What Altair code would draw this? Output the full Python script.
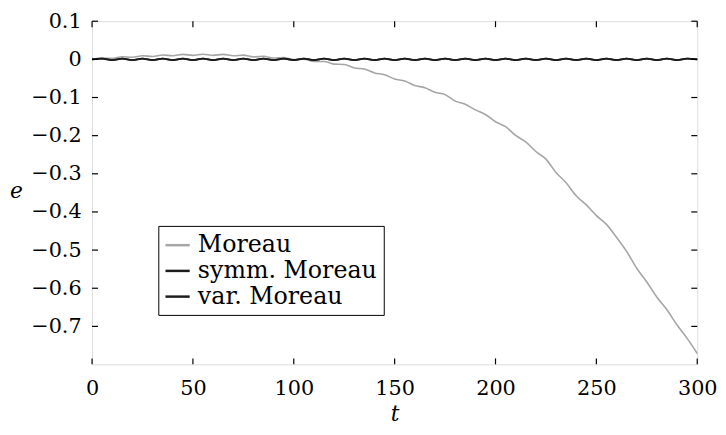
import altair as alt
import pandas as pd

t_vals = [0, 5, 10, 15, 20, 25, 30, 35, 40, 45, 50, 55, 60, 65, 70, 75, 80, 85, 90, 95,
          100, 105, 110, 115, 120, 125, 130, 135, 140, 145, 150, 155, 160, 165, 170, 175,
          180, 185, 190, 195, 200, 205, 210, 215, 220, 225, 230, 235, 240, 245, 250, 255,
          260, 265, 270, 275, 280, 285, 290, 295, 300]

moreau = [0.0, 0.0035, 0.0025, 0.007, 0.0055, 0.0095, 0.0075, 0.0115, 0.0095, 0.013,
          0.0105, 0.0135, 0.0105, 0.013, 0.0095, 0.011, 0.0065, 0.008, 0.0035, 0.0045,
          -0.0005, 0.0005, -0.0055, -0.0055, -0.0125, -0.0135, -0.0225, -0.0255, -0.0355, -0.0405,
          -0.0515, -0.0565, -0.0685, -0.0745, -0.0865, -0.0925, -0.1095, -0.1175, -0.1325, -0.1445,
          -0.1635, -0.1765, -0.1995, -0.2165, -0.2415, -0.2615, -0.2965, -0.3235, -0.3575, -0.3815,
          -0.4095, -0.4325, -0.4665, -0.5035, -0.5475, -0.5835, -0.6235, -0.6565, -0.6965, -0.7315,
          -0.771]

symm_moreau = [0.0, 0.002, -0.002, 0.002, -0.002, 0.002, -0.002, 0.002, -0.002, 0.002,
               -0.002, 0.002, -0.002, 0.002, -0.002, 0.002, -0.002, 0.002, -0.002, 0.002,
               -0.002, 0.002, -0.002, 0.002, -0.002, 0.002, -0.002, 0.002, -0.002, 0.002,
               -0.002, 0.002, -0.002, 0.002, -0.002, 0.002, -0.002, 0.002, -0.002, 0.002,
               -0.002, 0.002, -0.002, 0.002, -0.002, 0.002, -0.002, 0.002, -0.002, 0.002,
               -0.002, 0.002, -0.002, 0.002, -0.002, 0.002, -0.002, 0.002, -0.002, 0.002,
               0.0]

var_moreau = [0.0, 0.002, -0.002, 0.002, -0.002, 0.002, -0.002, 0.002, -0.002, 0.002,
              -0.002, 0.002, -0.002, 0.002, -0.002, 0.002, -0.002, 0.002, -0.002, 0.002,
              -0.002, 0.002, -0.002, 0.002, -0.002, 0.002, -0.002, 0.002, -0.002, 0.002,
              -0.002, 0.002, -0.002, 0.002, -0.002, 0.002, -0.002, 0.002, -0.002, 0.002,
              -0.002, 0.002, -0.002, 0.002, -0.002, 0.002, -0.002, 0.002, -0.002, 0.002,
              -0.002, 0.002, -0.002, 0.002, -0.002, 0.002, -0.002, 0.002, -0.002, 0.002,
              0.0]

series_names = ["Moreau", "symm. Moreau", "var. Moreau"]
series_colors = ["#a6a6a6", "#1c1c1c", "#1c1c1c"]

x_ticks = [0, 50, 100, 150, 200, 250, 300]
y_ticks = [0.1, 0.0, -0.1, -0.2, -0.3, -0.4, -0.5, -0.6, -0.7]

W, H = 612, 347
FONT = "DejaVu Serif, serif"

rows = []
for name, vals in zip(series_names, [moreau, symm_moreau, var_moreau]):
    for i, (t, e) in enumerate(zip(t_vals, vals)):
        rows.append({"t": t, "e": e, "series": name, "idx": i})
df = pd.DataFrame(rows)

xscale = alt.Scale(domain=[0, 300], nice=False, zero=False)
yscale = alt.Scale(domain=[-0.7995, 0.1], nice=False, zero=False)

lines = alt.Chart(df).mark_line(strokeWidth=1.6, interpolate="monotone").encode(
    x=alt.X("t:Q", scale=xscale,
            axis=alt.Axis(values=x_ticks, ticks=False, domain=False, grid=False,
                          labelFlush=False, labelOverlap=False,
                          labelFont=FONT, labelFontSize=21, labelColor="black",
                          labelPadding=14, title="t", titleFont=FONT,
                          titleFontStyle="italic", titleFontWeight="normal",
                          titleFontSize=22, titleColor="black",
                          titleX=306, titleY=50, titleBaseline="middle")),
    y=alt.Y("e:Q", scale=yscale,
            axis=alt.Axis(values=y_ticks, format=".1~f", ticks=False, domain=False,
                          grid=False, labelFlush=False, labelOverlap=False,
                          labelFont=FONT, labelFontSize=21,
                          labelColor="black", labelPadding=11, title="e",
                          titleFont=FONT, titleFontStyle="italic",
                          titleFontWeight="normal", titleFontSize=22,
                          titleColor="black", titleAngle=0, titleX=-77, titleY=171,
                          titleAlign="center", titleBaseline="middle")),
    color=alt.Color("series:N",
                    scale=alt.Scale(domain=series_names, range=series_colors),
                    legend=alt.Legend(orient="none", legendX=67, legendY=207,
                                      title=None, strokeColor="black",
                                      fillColor="white", padding=6,
                                      symbolType="stroke", symbolSize=600,
                                      symbolStrokeWidth=2.5, labelFont=FONT,
                                      labelFontSize=24, labelColor="black",
                                      rowPadding=-3, labelLimit=400,
                                      cornerRadius=0, labelOffset=7)),
    order=alt.Order("idx:Q"),
)

xt = pd.DataFrame({"t": x_ticks})
yt = pd.DataFrame({"e": y_ticks})

tick_style = dict(color="black", strokeWidth=1.2)
bottom_ticks = alt.Chart(xt).mark_rule(**tick_style).encode(
    x=alt.X("t:Q", scale=xscale), y=alt.value(H), y2=alt.value(H - 6))
top_ticks = alt.Chart(xt).mark_rule(**tick_style).encode(
    x=alt.X("t:Q", scale=xscale), y=alt.value(0), y2=alt.value(6))
left_ticks = alt.Chart(yt).mark_rule(**tick_style).encode(
    y=alt.Y("e:Q", scale=yscale), x=alt.value(0), x2=alt.value(6))
right_ticks = alt.Chart(yt).mark_rule(**tick_style).encode(
    y=alt.Y("e:Q", scale=yscale), x=alt.value(W), x2=alt.value(W - 6))

chart = alt.layer(lines, bottom_ticks, top_ticks, left_ticks, right_ticks).properties(
    width=W, height=H,
    autosize=alt.AutoSizeParams(type="none"),
    padding={"left": 85, "top": 11, "right": 21, "bottom": 61},
).configure_view(stroke="black", strokeWidth=1.6).configure(background="white")

chart.save("out.html", embed_options={"renderer": "svg", "actions": False})
